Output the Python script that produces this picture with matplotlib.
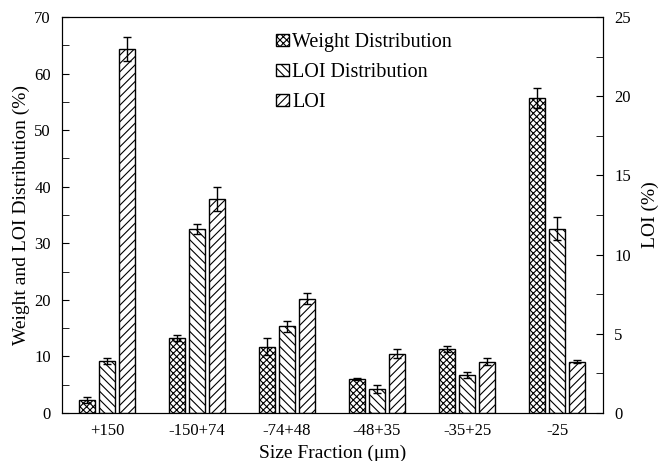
import numpy as np
import matplotlib
matplotlib.use('Agg')
import matplotlib.pyplot as plt
from matplotlib.ticker import MultipleLocator

# ── Data ──────────────────────────────────────────────────────────────────────
fractions = ['+150', '-150+74', '-74+48', '-48+35', '-35+25', '-25']
weight_dist = [2.3, 13.2, 11.7, 6.0, 11.3, 55.7]
weight_err = [0.5, 0.5, 1.5, 0.25, 0.5, 1.8]
loi_dist = [9.2, 32.5, 15.3, 4.2, 6.7, 32.6]
loi_dist_err = [0.5, 0.9, 0.9, 0.7, 0.5, 2.0]
loi = [23.0, 13.5, 7.2, 3.75, 3.25, 3.25]          # right axis
loi_err = [0.75, 0.75, 0.35, 0.27, 0.22, 0.12]

plt.rcParams['font.family'] = ['Liberation Serif', 'DejaVu Serif']
plt.rcParams['hatch.linewidth'] = 0.8

fig = plt.figure(figsize=(6.59, 4.61), dpi=100)
ax = fig.add_axes([62 / 659, 48 / 461, 541 / 659, 396 / 461])
ax2 = ax.twinx()

x = np.arange(len(fractions))
w = 0.185
step = 0.222
err_kw = dict(ecolor='black', capsize=3, elinewidth=1, capthick=1)

b1 = ax.bar(x - step, weight_dist, w, yerr=weight_err, color='white',
            edgecolor='black', hatch='xxxxx', linewidth=1, error_kw=err_kw,
            label='Weight Distribution')
b2 = ax.bar(x, loi_dist, w, yerr=loi_dist_err, color='white',
            edgecolor='black', hatch='\\\\\\\\', linewidth=1, error_kw=err_kw,
            label='LOI Distribution')
b3 = ax2.bar(x + step, loi, w, yerr=loi_err, color='white',
             edgecolor='black', hatch='////', linewidth=1, error_kw=err_kw,
             label='LOI')

ax.set_xlim(-0.5, 5.51)
ax.set_ylim(0, 70)
ax2.set_ylim(0, 25)
ax.set_xticks(x)
ax.set_xticklabels(fractions, fontsize=12)
ax.tick_params(axis='x', length=0, pad=7)

ax.yaxis.set_major_locator(MultipleLocator(10))
ax.yaxis.set_minor_locator(MultipleLocator(5))
ax.tick_params(axis='y', which='both', direction='in', labelsize=12, right=False)
ax.tick_params(axis='y', which='major', length=5, pad=8)
ax.tick_params(axis='y', which='minor', length=5)

ax2.yaxis.set_major_locator(MultipleLocator(5))
ax2.yaxis.set_minor_locator(MultipleLocator(2.5))
ax2.tick_params(axis='y', which='both', direction='in', labelsize=12)
ax2.tick_params(axis='y', which='major', length=5, pad=8)
ax2.tick_params(axis='y', which='minor', length=5)

ax.set_xlabel('Size Fraction (\u03bcm)', fontsize=14, labelpad=4)
ax.set_ylabel('Weight and LOI Distribution (%)', fontsize=14, labelpad=3)
ax2.set_ylabel('LOI (%)', fontsize=14, labelpad=8)

ax2.legend([b1, b2, b3], ['Weight Distribution', 'LOI Distribution', 'LOI'],
           loc='upper left', bbox_to_anchor=(0.381, 0.98), frameon=False,
           fontsize=14.5, handlelength=0.65, handleheight=0.55,
           handletextpad=0.15, labelspacing=0.55, borderaxespad=0)

fig.savefig('out.png', dpi=100)
